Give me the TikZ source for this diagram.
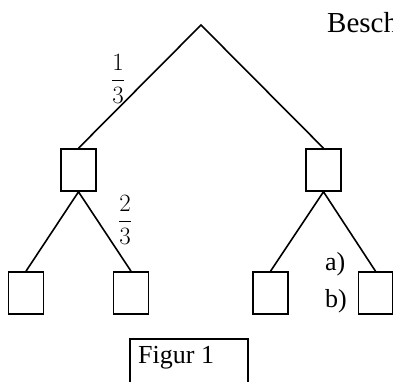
\documentclass[tikz,border=0pt]{standalone}
\usepackage{fontspec}
\setmainfont{Liberation Serif}
\begin{document}
\begin{tikzpicture}[x=1pt,y=-1pt,
  sq/.style={draw,line width=1.6pt,minimum width=35pt,minimum height=42pt,inner sep=0pt},
  edge/.style={line width=1.6pt},
  lbl/.style={font=\fontsize{26}{30}\selectfont,inner sep=0pt,anchor=base west},
  frac/.style={font=\fontsize{26}{28}\selectfont,inner sep=0pt}]
\useasboundingbox (0,0) rectangle (393,382);
\coordinate (apex) at (201,25);
\node[sq] (m1) at (78.5,170) {};
\node[sq] (m2) at (323.5,170) {};
\node[sq] (b1) at (26,293) {};
\node[sq] (b2) at (131,293) {};
\node[sq] (b3) at (270.5,293) {};
\node[sq,minimum width=34pt] (b4) at (375.5,293) {};
\draw[edge] (m1.north) -- (apex) -- (m2.north);
\draw[edge] (b1.north) -- (m1.south) -- (b2.north);
\draw[edge] (b3.north) -- (m2.south) -- (b4.north);
\node[frac] (f1) at (118,79) {$\displaystyle\frac{1}{3}$};
\node[frac] (f2) at (125,220) {$\displaystyle\frac{2}{3}$};
\node[lbl,font=\fontsize{29}{32}\selectfont] (besch) at (327,33) {Besch};
\node[lbl] (a) at (325,270) {a)};
\node[lbl] (b) at (325,307) {b)};
\node[draw,line width=1.6pt,minimum width=118pt,minimum height=50pt,inner sep=0pt,anchor=north west] (fig) at (129,338) {};
\node[lbl] (figt) at (138,363) {Figur 1};
\end{tikzpicture}
\end{document}
